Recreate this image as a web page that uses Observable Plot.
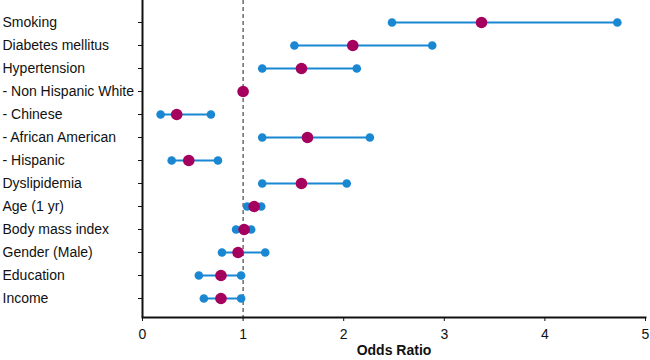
<!DOCTYPE html>
<html>
<head>
<meta charset="utf-8">
<script src="https://cdn.jsdelivr.net/npm/d3@7"></script>
<script src="https://cdn.jsdelivr.net/npm/@observablehq/plot@0.6"></script>
<style>
  html, body { margin: 0; padding: 0; background: #fff; }
  #chart svg { display: block; }
</style>
</head>
<body>
<div id="chart"></div>
<script>
const factors = ["Smoking", "Diabetes mellitus", "Hypertension", "- Non Hispanic White", "- Chinese", "- African American", "- Hispanic", "Dyslipidemia", "Age (1 yr)", "Body mass index", "Gender (Male)", "Education", "Income"];
const oddsRatio = [3.37, 2.09, 1.58, 1.00, 0.34, 1.64, 0.46, 1.58, 1.11, 1.01, 0.95, 0.78, 0.78];
const ciLow     = [2.48, 1.51, 1.19, null, 0.18, 1.19, 0.29, 1.19, 1.04, 0.93, 0.79, 0.56, 0.61];
const ciHigh    = [4.72, 2.88, 2.13, null, 0.68, 2.26, 0.75, 2.03, 1.18, 1.08, 1.22, 0.98, 0.98];
const xTicks = [0, 1, 2, 3, 4, 5];
const xLabel = "Odds Ratio";

const rows = factors.map((f, i) => ({factor: f, or: oddsRatio[i], lo: ciLow[i], hi: ciHigh[i]}));
const ciRows = rows.filter(d => d.lo != null);
const ends = ciRows.flatMap(d => [{factor: d.factor, v: d.lo}, {factor: d.factor, v: d.hi}]);

const blue = "#1a87d2";
const magenta = "#a6005f";

const chart = Plot.plot({
  width: 650,
  height: 360,
  marginLeft: 142,
  marginRight: 5,
  marginTop: 0,
  marginBottom: 43,
  insetTop: 22,
  insetBottom: 18.5,
  style: {fontFamily: "'Liberation Sans', Arial, sans-serif", fontSize: "14px", color: "#111", background: "#fff"},
  x: {domain: [0, 5]},
  y: {type: "point", domain: factors, padding: 0},
  marks: [
    Plot.ruleX([1], {stroke: "#222", strokeWidth: 1, strokeDasharray: "4,3"}),
    Plot.ruleY(ciRows, {y: "factor", x1: "lo", x2: "hi", stroke: blue, strokeWidth: 2}),
    Plot.dot(ends, {x: "v", y: "factor", r: 4.3, fill: blue}),
    Plot.dot(rows, {x: "or", y: "factor", r: 5.8, fill: magenta}),
    Plot.ruleX([0], {stroke: "#111", strokeWidth: 2}),
    Plot.frame({anchor: "bottom", stroke: "#111", strokeWidth: 2}),
    Plot.axisY({anchor: "left", tickSize: 4, tickPadding: 136, textAnchor: "start", label: null, fontSize: 14, fill: "#111"}),
    Plot.axisX({ticks: xTicks, tickFormat: d3.format("d"), tickSize: 4, tickPadding: 8, label: null, fontSize: 14, fill: "#111"}),
    Plot.text([xLabel], {frameAnchor: "bottom", dy: 37, fontWeight: "bold", fontSize: 14, fill: "#111"})
  ]
});
document.getElementById("chart").appendChild(chart);
</script>
</body>
</html>
